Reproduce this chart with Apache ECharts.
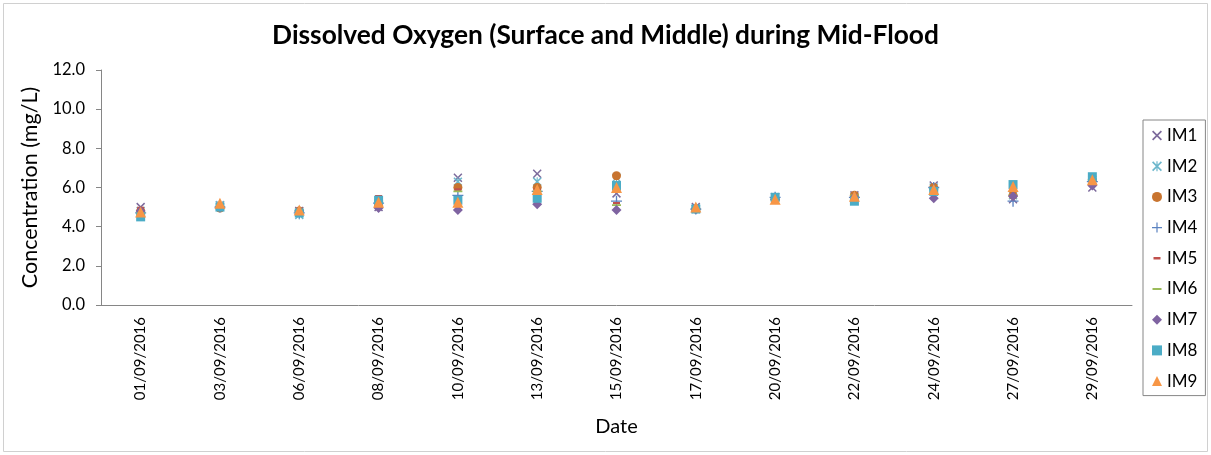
<!DOCTYPE html>
<html><head><meta charset="utf-8">
<script src="https://cdn.jsdelivr.net/npm/echarts@6/dist/echarts.min.js"></script>
<style>html,body{margin:0;padding:0;background:#fff}#c{width:1211px;height:455px}</style>
</head><body><div id="c"></div>
<script>
const categories = ['01/09/2016','03/09/2016','06/09/2016','08/09/2016','10/09/2016','13/09/2016','15/09/2016','17/09/2016','20/09/2016','22/09/2016','24/09/2016','27/09/2016','29/09/2016'];
const yTicks = [0, 2, 4, 6, 8, 10, 12];
const IM1 = [5.0, 5.1, 4.8, 5.0, 6.5, 6.7, 5.7, 5.0, 5.5, 5.6, 6.1, 5.4, 6.0];
const IM2 = [4.8, 5.1, 4.6, 5.2, 6.3, 6.3, 6.5, 4.9, 5.5, 5.5, 6.0, 5.6, 6.4];
const IM3 = [4.8, 4.95, 4.8, 5.1, 6.0, 6.0, 6.6, 4.9, 5.4, 5.6, 6.0, 5.6, 6.4];
const IM4 = [4.7, 5.0, 4.7, 5.2, 5.6, 5.8, 5.3, 4.9, 5.5, 5.5, 6.0, 5.3, 6.3];
const IM5 = [4.95, 5.0, 4.8, 5.55, 5.9, 5.9, 5.2, 4.9, 5.4, 5.5, 5.9, 5.6, 6.4];
const IM6 = [4.7, 5.0, 4.8, 5.3, 5.8, 5.8, 5.1, 4.9, 5.4, 5.6, 5.9, 5.6, 6.4];
const IM7 = [4.8, 5.0, 4.8, 4.95, 4.85, 5.15, 4.85, 4.9, 5.4, 5.5, 5.45, 5.55, 6.1];
const IM8 = [4.5, 5.0, 4.7, 5.35, 5.35, 5.45, 6.1, 4.9, 5.5, 5.3, 5.8, 6.15, 6.55];
const IM9 = [4.75, 5.2, 4.85, 5.25, 5.25, 5.9, 6.0, 5.0, 5.4, 5.55, 5.9, 6.05, 6.4];
const seriesNames = ['IM1','IM2','IM3','IM4','IM5','IM6','IM7','IM8','IM9'];
const seriesData = [IM1, IM2, IM3, IM4, IM5, IM6, IM7, IM8, IM9];

const X = 'path://M0,1.2 L1.2,0 L5,3.8 L8.8,0 L10,1.2 L6.2,5 L10,8.8 L8.8,10 L5,6.2 L1.2,10 L0,8.8 L3.8,5 Z';
const AST = 'path://M0,1.2 L1.2,0 L4.4,3.2 L4.4,0 L5.6,0 L5.6,3.2 L8.8,0 L10,1.2 L6.2,5 L10,8.8 L8.8,10 L5.6,6.8 L5.6,10 L4.4,10 L4.4,6.8 L1.2,10 L0,8.8 L3.8,5 Z';
const PLUS = 'path://M4.4,0 H5.6 V4.4 H10 V5.6 H5.6 V10 H4.4 V5.6 H0 V4.4 H4.4 Z';
const DASH_R = 'path://M0,0 L0.01,0 L0,0.01 Z M1.5,3.8 H8.5 V6.2 H1.5 Z M10,10 L9.99,10 L10,9.99 Z';
const DASH_G = 'path://M0,0 L0.01,0 L0,0.01 Z M0.5,4.1 H9.5 V5.9 H0.5 Z M10,10 L9.99,10 L10,9.99 Z';
const styles = [
  {symbol: X, size: 9, color: '#7c6a9c'},
  {symbol: AST, size: 9, color: '#6db7cc'},
  {symbol: 'circle', size: 9, color: '#c8742f'},
  {symbol: PLUS, size: 11, color: '#5a82c0'},
  {symbol: DASH_R, size: 10, color: '#c0504d'},
  {symbol: DASH_G, size: 10, color: '#9bbb59'},
  {symbol: 'diamond', size: 10, color: '#7f63a1'},
  {symbol: 'rect', size: 9, color: '#4bacc6'},
  {symbol: 'triangle', size: 11, color: '#f79646'}
];
const FONT = 'Lato';

const chart = echarts.init(document.getElementById('c'), null, {renderer: 'canvas'});
chart.setOption({
  animation: false,
  backgroundColor: '#fff',
  textStyle: {fontFamily: FONT},
  title: {
    text: 'Dissolved Oxygen (Surface and Middle) during Mid-Flood',
    left: 'center', top: 18,
    textStyle: {fontFamily: FONT, fontWeight: 'bold', fontSize: 26.3, color: '#000'}
  },
  graphic: [{type: 'rect', shape: {x: 3.5, y: 3.5, width: 1204, height: 448}, style: {fill: 'none', stroke: '#d0d0d0', lineWidth: 1}, silent: true}],
  legend: {
    orient: 'vertical', left: 1143, top: 120,
    padding: [7, 8, 6, 9],
    borderColor: '#868686', borderWidth: 1,
    itemWidth: 10, itemHeight: 10, itemGap: 13.7, itemTextGap: 6,
    textStyle: {fontFamily: FONT, fontSize: 17, color: '#000', lineHeight: 16},
    data: seriesNames.map((n, i) => ({name: n, icon: styles[i].symbol}))
  },
  grid: {left: 101, top: 70, width: 1031, height: 235, containLabel: false},
  xAxis: {
    type: 'category', data: categories, boundaryGap: true,
    axisLine: {lineStyle: {color: '#868686', width: 1}},
    axisTick: {show: false},
    axisLabel: {rotate: 90, margin: 12, fontSize: 15, color: '#000', fontFamily: FONT},
    name: 'Date', nameLocation: 'middle', nameGap: 112,
    nameTextStyle: {fontSize: 20, color: '#000', fontFamily: FONT}
  },
  yAxis: {
    type: 'value', min: yTicks[0], max: yTicks[yTicks.length - 1], interval: 2,
    axisLine: {show: true, lineStyle: {color: '#868686', width: 1}},
    axisTick: {show: true, length: 5, lineStyle: {color: '#868686'}},
    splitLine: {show: false},
    axisLabel: {fontSize: 16.5, color: '#000', margin: 16, fontFamily: FONT, formatter: v => v.toFixed(1)},
    name: 'Concentration (mg/L)', nameLocation: 'middle', nameGap: 56,
    nameTextStyle: {fontSize: 21.5, color: '#000', fontFamily: FONT}
  },
  series: seriesNames.map((n, i) => ({
    name: n, type: 'scatter', data: seriesData[i],
    symbol: styles[i].symbol, symbolSize: styles[i].size,
    itemStyle: {color: styles[i].color, opacity: 1},
    z: 2 + i
  }))
});
</script></body></html>
